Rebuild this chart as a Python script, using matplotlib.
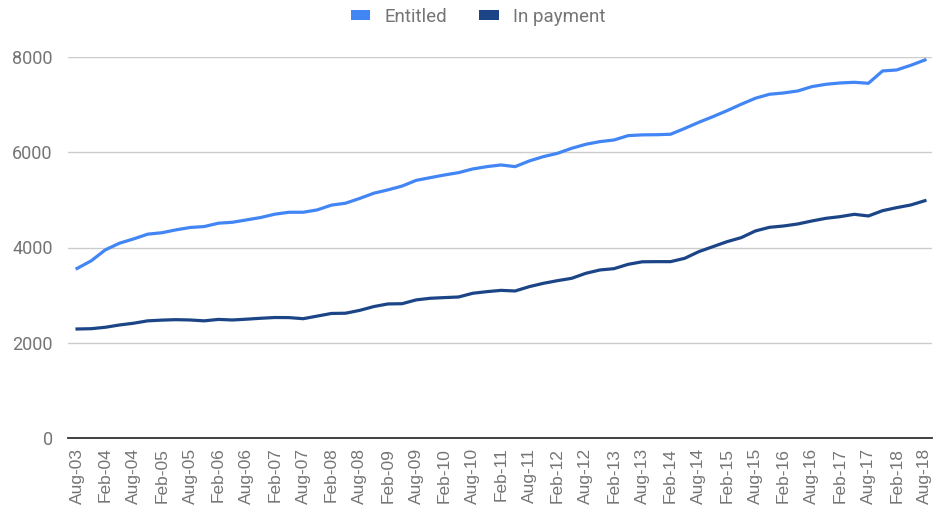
import matplotlib
matplotlib.use("Agg")
import matplotlib.pyplot as plt
from matplotlib.patches import Patch

# quarterly counts, Aug-03 .. Aug-18
entitled = [3560, 3720, 3950, 4090, 4180, 4280, 4310, 4370, 4420, 4440,
            4510, 4530, 4580, 4630, 4700, 4740, 4740, 4790, 4890, 4930,
            5030, 5140, 5210, 5290, 5410, 5467, 5523, 5572, 5649, 5698,
            5733, 5698, 5817, 5908, 5978, 6083, 6167, 6223, 6258, 6349,
            6365, 6368, 6378, 6500, 6629, 6748, 6874, 7008, 7134, 7218,
            7245, 7287, 7378, 7427, 7455, 7469, 7448, 7707, 7728, 7826,
            7938]
in_payment = [2289, 2295, 2325, 2373, 2410, 2460, 2475, 2485, 2478, 2460,
              2490, 2478, 2495, 2514, 2530, 2528, 2505, 2560, 2615, 2620,
              2680, 2760, 2815, 2820, 2900, 2934, 2948, 2961, 3039, 3073,
              3100, 3087, 3178, 3248, 3304, 3353, 3458, 3528, 3556, 3647,
              3700, 3703, 3703, 3773, 3913, 4018, 4123, 4207, 4347, 4424,
              4452, 4494, 4557, 4613, 4648, 4697, 4662, 4773, 4837, 4893,
              4983]
years = list(range(3, 19))
tick_labels = []
for y in years:
    if y > 3:
        tick_labels.append("Feb-%02d" % y)
    tick_labels.append("Aug-%02d" % y)

c_ent = "#4285F4"
c_pay = "#1C4587"
grey = "#757575"

fig = plt.figure(figsize=(9.51, 5.13), dpi=100)
ax = fig.add_axes([68/951, 1 - 438/513, 864/951, 381/513])

x = list(range(len(entitled)))
ax.plot(x, entitled, color=c_ent, lw=2.3, solid_joinstyle="round")
ax.plot(x, in_payment, color=c_pay, lw=2.3, solid_joinstyle="round")

ax.set_ylim(0, 8000)
ax.set_xlim(-0.64, 60.5)
ax.set_yticks([0, 2000, 4000, 6000, 8000])
ax.set_yticklabels(["0", "2000", "4000", "6000", "8000"],
                   fontsize=13, color=grey, family="Roboto")
ax.set_xticks(range(0, len(entitled), 2))
ax.set_xticklabels(tick_labels, rotation=90, fontsize=12.5, color=grey,
                   family="Liberation Sans")
ax.tick_params(axis="both", length=0)
ax.tick_params(axis="y", pad=11)
ax.tick_params(axis="x", pad=7)

ax.grid(axis="y", color="#cccccc", lw=1)
ax.set_axisbelow(True)
for s in ["top", "right", "left"]:
    ax.spines[s].set_visible(False)
ax.spines["bottom"].set_color("#333333")
ax.spines["bottom"].set_linewidth(1.3)
ax.spines["bottom"].set_zorder(3)

handles = [Patch(facecolor=c_ent, label="Entitled"),
           Patch(facecolor=c_pay, label="In payment")]
leg = fig.legend(handles=handles, loc="center", bbox_to_anchor=(478/951, 1 - 17/513),
                 ncol=2, frameon=False, handlelength=1.05, handleheight=0.45,
                 columnspacing=1.7, handletextpad=0.75,
                 prop={"family": "Roboto", "size": 13.5})
for t in leg.get_texts():
    t.set_color(grey)

fig.savefig("out.png", dpi=100)
